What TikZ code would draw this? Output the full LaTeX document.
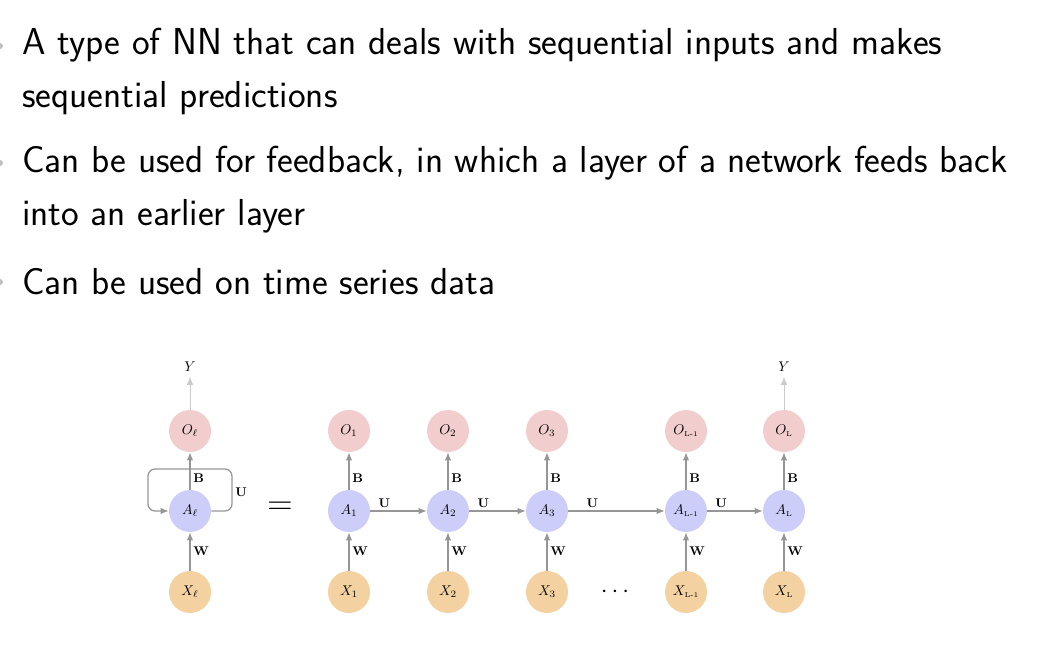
\documentclass[tikz,border=0pt]{standalone}
\usepackage{amsmath}
\usetikzlibrary{positioning,arrows.meta}
\definecolor{outc}{RGB}{242,205,206}
\definecolor{hidc}{RGB}{205,205,250}
\definecolor{inc}{RGB}{243,209,160}
\definecolor{edgec}{RGB}{150,150,150}
\tikzset{
  unit/.style={circle, draw=none, minimum size=1.05cm, inner sep=0pt, font=\normalsize},
  outn/.style={unit, fill=outc},
  hidn/.style={unit, fill=hidc},
  inn/.style={unit, fill=inc},
  link/.style={draw=edgec, line width=0.9pt, -{Latex[length=2mm,width=1.6mm]}},
  wlab/.style={font=\small, inner sep=2pt},
  bullet/.style={anchor=west, font=\sffamily\fontsize{26.7}{26}\selectfont, inner sep=0pt}
}
\newcommand{\sub}[1]{{\scriptscriptstyle\mathrm{#1}}}
\begin{document}
\begin{tikzpicture}[x=0.025cm, y=-0.025cm]
\useasboundingbox (0,0) rectangle (1046,668);
% slide text
\fill[edgec!60] (0,46) circle (3);
\fill[edgec!60] (0,163) circle (3);
\fill[edgec!60] (0,282) circle (3);
\node[bullet] (t1) at (22,45) {A type of NN that can deals with sequential inputs and makes};
\node[bullet] (t2) at (22,98) {sequential predictions};
\node[bullet] (t3) at (22,163) {Can be used for feedback, in which a layer of a network feeds back};
\node[bullet] (t4) at (22,216) {into an earlier layer};
\node[bullet] (t5) at (22,282) {Can be used on time series data};
% folded cell
\node[outn] (Ol) at (190,431) {$O_\ell$};
\node[hidn] (Al) at (190,511) {$A_\ell$};
\node[inn] (Xl) at (190,592) {$X_\ell$};
\node (Yl) at (190,367) {$Y$};
\draw[link] (Xl) -- node[wlab, right] {$\mathbf{W}$} (Al);
\draw[link] (Al) -- node[wlab, right, pos=0.3] {$\mathbf{B}$} (Ol);
\draw[link, draw=edgec!50, line width=0.5pt] (Ol) -- (Yl);
\draw[link, rounded corners=5pt] (Al.east) -- (232,511) -- (232,469)
  node[wlab, right, pos=0.45] {$\mathbf{U}$} -- (148,469) -- (148,511) -- (Al.west);
\node[font=\Huge] (eq) at (280,508) {$=$};
% unfolded
\foreach \x/\i [count=\k] in {349/1,448/2,547/3,686/{\sub{L\text{-}1}},784/{\sub{L}}} {
  \node[outn] (O\k) at (\x,431) {$O_{\i}$};
  \node[hidn] (A\k) at (\x,511) {$A_{\i}$};
  \node[inn] (X\k) at (\x,592) {$X_{\i}$};
  \draw[link] (X\k) -- node[wlab, right] {$\mathbf{W}$} (A\k);
  \draw[link] (A\k) -- node[wlab, right, pos=0.3] {$\mathbf{B}$} (O\k);
}
\foreach \a/\b in {1/2,2/3,3/4,4/5}
  \draw[link] (A\a) -- node[wlab, above, pos=0.25] {$\mathbf{U}$} (A\b);
\node (YL) at (784,367) {$Y$};
\draw[link, draw=edgec!50, line width=0.5pt] (O5) -- (YL);
\node[font=\LARGE] (dots) at (617,592) {$\cdots$};
\end{tikzpicture}
\end{document}
